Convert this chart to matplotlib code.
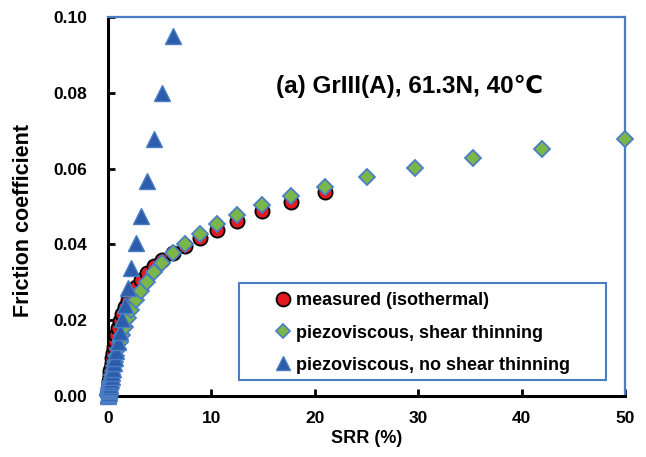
import matplotlib
matplotlib.use("Agg")
import matplotlib.pyplot as plt
from matplotlib.lines import Line2D
from matplotlib.patches import Rectangle

# Slide-to-roll ratio (%) and friction coefficients, ascending SRR
srr_measured = [0.0, 0.02, 0.04, 0.06, 0.08, 0.10, 0.12, 0.14, 0.17, 0.20, 0.24, 0.28,
                0.34, 0.40, 0.48, 0.57, 0.67, 0.80, 0.95, 1.13, 1.35, 1.60, 1.90, 2.26,
                2.68, 3.19, 3.76, 4.45, 5.27, 6.30, 7.45, 8.85, 10.5, 12.5, 14.9, 17.7, 21.0]
mu_measured = [0.0, 0.0006, 0.0011, 0.0017, 0.0023, 0.0029, 0.0034, 0.0040, 0.0047, 0.0055,
               0.0065, 0.0075, 0.0087, 0.0100, 0.0114, 0.0129, 0.0145, 0.0162, 0.0180, 0.0198,
               0.0216, 0.0234, 0.0252, 0.0270, 0.0288, 0.0306, 0.0324, 0.0342, 0.0360, 0.0378,
               0.0397, 0.0417, 0.0439, 0.0463, 0.0487, 0.0512, 0.0537]

srr_shear_thin = [0.0, 0.02, 0.04, 0.06, 0.08, 0.10, 0.12, 0.14, 0.17, 0.20, 0.24, 0.28,
                  0.34, 0.40, 0.48, 0.57, 0.67, 0.80, 0.95, 1.13, 1.35, 1.60, 1.90, 2.26,
                  2.68, 3.19, 3.76, 4.45, 5.27, 6.30, 7.45, 8.85, 10.5, 12.5, 14.9, 17.7,
                  21.0, 25.0, 29.7, 35.3, 42.0, 50.0]
mu_shear_thin = [0.0, 0.0003, 0.0006, 0.0008, 0.0011, 0.0014, 0.0017, 0.0020, 0.0024, 0.0028,
                 0.0033, 0.0039, 0.0047, 0.0056, 0.0066, 0.0078, 0.0091, 0.0106, 0.0123, 0.0142,
                 0.0162, 0.0183, 0.0205, 0.0228, 0.0252, 0.0277, 0.0302, 0.0327, 0.0352, 0.0377,
                 0.0402, 0.0427, 0.0453, 0.0478, 0.0503, 0.0528, 0.0552, 0.0577, 0.0601, 0.0628,
                 0.0653, 0.0678]

srr_newtonian = [0.0, 0.02, 0.04, 0.06, 0.08, 0.10, 0.12, 0.14, 0.17, 0.20, 0.24, 0.28,
                 0.34, 0.40, 0.48, 0.57, 0.67, 0.80, 0.95, 1.13, 1.35, 1.60, 1.90, 2.26,
                 2.68, 3.19, 3.76, 4.45, 5.27, 6.30]
mu_newtonian = [0.0, 0.0003, 0.0006, 0.0009, 0.0012, 0.0015, 0.0018, 0.0021, 0.0025, 0.0030,
                0.0036, 0.0042, 0.0051, 0.0060, 0.0072, 0.0086, 0.0101, 0.0120, 0.0143, 0.0170,
                0.0202, 0.0240, 0.0284, 0.0339, 0.0403, 0.0474, 0.0568, 0.0677, 0.0800, 0.0950]

series_labels = ["measured (isothermal)",
                 "piezoviscous, shear thinning",
                 "piezoviscous, no shear thinning"]
title_text = "(a) GrIII(A), 61.3N, 40\u2103"
x_label = "SRR (%)"
y_label = "Friction coefficient"
x_ticks = [0, 10, 20, 30, 40, 50]
y_ticks = [0.00, 0.02, 0.04, 0.06, 0.08, 0.10]

FONT = ["Liberation Sans", "DejaVu Sans"]
plt.rcParams["font.family"] = FONT
plt.rcParams["font.weight"] = "bold"

RED = "#E3191F"
GREEN = "#7AB648"
BLUE_EDGE = "#4A7DC4"
BLUE_FILL = "#2C5DAA"

fig = plt.figure(figsize=(6.46, 4.57), dpi=100)
ax = fig.add_axes([108 / 646, 61 / 457, 517 / 646, 379 / 457])

ax.plot(srr_measured, mu_measured, ls="none", marker="o", ms=10.2,
        mfc=RED, mec="black", mew=1.3, clip_on=False, zorder=3)
ax.plot(srr_shear_thin, mu_shear_thin, ls="none", marker="D", ms=8.2,
        mfc=GREEN, mec=BLUE_EDGE, mew=1.3, clip_on=False, zorder=4)
ax.plot(srr_newtonian, mu_newtonian, ls="none", marker="^", ms=12,
        mfc=BLUE_FILL, mec=BLUE_EDGE, mew=1.0, clip_on=False, zorder=5)

ax.set_xlim(0, 50)
ax.set_ylim(0, 0.10)
ax.set_xticks(x_ticks)
ax.set_yticks(y_ticks)
ax.set_xticklabels([str(v) for v in x_ticks])
ax.set_yticklabels([f"{v:.2f}" for v in y_ticks])
ax.tick_params(axis="both", direction="in", length=5, width=2, color="black",
               labelsize=12.5)
ax.tick_params(axis="y", pad=15)
ax.tick_params(axis="x", pad=11)

for side in ("left", "bottom"):
    ax.spines[side].set_color("black")
    ax.spines[side].set_linewidth(2.2)
for side in ("top", "right"):
    ax.spines[side].set_color(BLUE_EDGE)
    ax.spines[side].set_linewidth(1.6)

ax.set_xlabel(x_label, fontsize=13, fontweight="bold", labelpad=3)
ax.set_ylabel(y_label, fontsize=15.5, fontweight="bold")
ax.yaxis.set_label_coords(-0.143, 0.464)

ax.text(0.584, 0.818, title_text, transform=ax.transAxes, ha="center", va="center",
        fontsize=17.5, fontweight="bold", family=FONT)

# Legend box and entries
ax.add_patch(Rectangle((0.2534, 0.042), 0.7096, 0.257, transform=ax.transAxes,
                       fill=True, facecolor="white", edgecolor=BLUE_EDGE, lw=1.5,
                       zorder=6, clip_on=False))
handles = [
    Line2D([], [], ls="none", marker="o", ms=10, mfc=RED, mec="black", mew=1.3),
    Line2D([], [], ls="none", marker="D", ms=6.8, mfc=GREEN, mec=BLUE_EDGE, mew=1.2),
    Line2D([], [], ls="none", marker="^", ms=9.5, mfc=BLUE_FILL, mec=BLUE_EDGE, mew=1.0),
]
leg = ax.legend(handles, series_labels, loc="upper left",
                bbox_to_anchor=(0.308, 0.297), frameon=False, borderpad=0,
                handlelength=0.8, handletextpad=0.3, labelspacing=0.84,
                prop={"size": 13, "weight": "bold"})
leg.set_zorder(7)

fig.savefig("out.png", dpi=100)
